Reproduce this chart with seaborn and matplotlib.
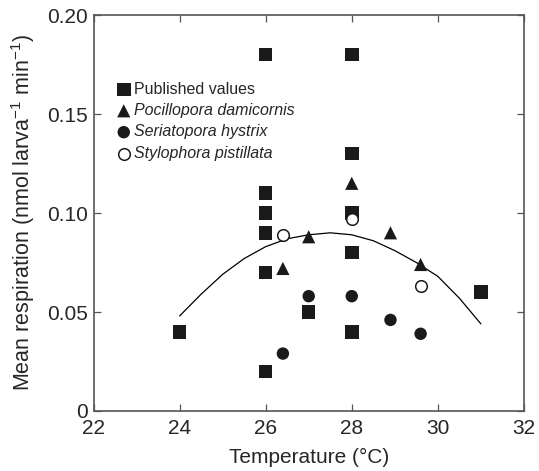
import numpy as np
import pandas as pd
import matplotlib
matplotlib.use('Agg')
import matplotlib.pyplot as plt
import seaborn as sns

# Published values (squares)
pub_temp = [24, 26, 26, 26, 26, 26, 26, 27, 28, 28, 28, 28, 28, 31]
pub_resp = [0.040, 0.180, 0.110, 0.100, 0.090, 0.070, 0.020, 0.050,
            0.180, 0.130, 0.100, 0.080, 0.040, 0.060]

# Pocillopora damicornis (filled triangles)
poc_temp = [26.4, 27.0, 28.0, 28.9, 29.6]
poc_resp = [0.072, 0.088, 0.115, 0.090, 0.074]

# Seriatopora hystrix (filled circles)
ser_temp = [26.4, 27.0, 28.0, 28.9, 29.6]
ser_resp = [0.029, 0.058, 0.058, 0.046, 0.039]

# Stylophora pistillata (open circles)
sty_temp = [26.4, 28.0, 29.6]
sty_resp = [0.089, 0.097, 0.063]

# Fitted curve
fit_temp = [24.0, 24.5, 25.0, 25.5, 26.0, 26.5, 27.0, 27.5,
            28.0, 28.5, 29.0, 29.5, 30.0, 30.5, 31.0]
fit_resp = [0.048, 0.059, 0.069, 0.077, 0.083, 0.087, 0.089, 0.090,
            0.089, 0.086, 0.081, 0.075, 0.068, 0.057, 0.044]

x_ticks = [22, 24, 26, 28, 30, 32]
y_ticks = [0, 0.05, 0.10, 0.15, 0.20]
y_tick_labels = ['0', '0.05', '0.10', '0.15', '0.20']

sns.set_style('ticks')
plt.rcParams['font.family'] = ['Liberation Sans', 'DejaVu Sans']
plt.rcParams['mathtext.fontset'] = 'custom'
plt.rcParams['mathtext.rm'] = 'Liberation Sans'

fig = plt.figure(figsize=(5.39, 4.71), dpi=100)
ax = fig.add_axes([0.1735, 0.1274, 0.7985, 0.8407])

sns.lineplot(x=fit_temp, y=fit_resp, color='black', linewidth=0.9, ax=ax)

sns.scatterplot(x=pub_temp, y=pub_resp, marker='s', s=95, color='#1a1a1a',
                edgecolor='none', label='Published values', ax=ax, zorder=3)
sns.scatterplot(x=poc_temp, y=poc_resp, marker='^', s=90, color='#1a1a1a',
                edgecolor='none', label='Pocillopora damicornis', ax=ax, zorder=3)
sns.scatterplot(x=ser_temp, y=ser_resp, marker='o', s=80, color='#1a1a1a',
                edgecolor='none', label='Seriatopora hystrix', ax=ax, zorder=3)
sns.scatterplot(x=sty_temp, y=sty_resp, marker='o', s=70, facecolor='white',
                edgecolor='#1a1a1a', linewidth=1.1,
                label='Stylophora pistillata', ax=ax, zorder=3)

ax.set_xlim(22, 32)
ax.set_ylim(0, 0.20)
ax.set_xticks(x_ticks)
ax.set_yticks(y_ticks)
ax.set_yticklabels(y_tick_labels)
ax.tick_params(direction='in', length=5, width=0.9, color='#555555',
               labelsize=15, top=True, right=True, labeltop=False,
               labelright=False)
ax.tick_params(axis='y', pad=4)
ax.tick_params(axis='x', pad=6)
for sp in ax.spines.values():
    sp.set_visible(True)
    sp.set_color('#555555')
    sp.set_linewidth(1.2)

ax.set_xlabel('Temperature (°C)', fontsize=15, labelpad=7)
ax.set_ylabel('Mean respiration (nmol larva$^{\\mathregular{-1}}$ min$^{\\mathregular{-1}}$)',
              fontsize=15.5, labelpad=7)

leg = ax.legend(loc='upper left', bbox_to_anchor=(0.035, 0.848), frameon=False,
                fontsize=11.5, handletextpad=0.1, labelspacing=0.4,
                borderaxespad=0, handlelength=1.1)
for i, txt in enumerate(leg.get_texts()):
    if i > 0:
        txt.set_style('italic')

fig.savefig('out.png', dpi=100)
